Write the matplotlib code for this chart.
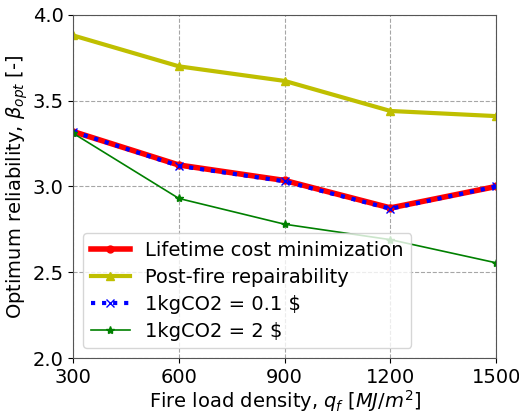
import numpy as np
import matplotlib
matplotlib.use("Agg")
import matplotlib.pyplot as plt

qf = [300, 600, 900, 1200, 1500]
lifetime = [3.32, 3.125, 3.035, 2.875, 3.0]
repair = [3.88, 3.70, 3.615, 3.44, 3.41]
co2_01 = [3.32, 3.12, 3.03, 2.87, 3.0]
co2_2 = [3.31, 2.93, 2.78, 2.69, 2.555]

plt.rcParams['font.size'] = 14
fig = plt.figure(figsize=(5.19, 4.13), dpi=100)
ax = fig.add_axes([0.141, 0.133, 0.815, 0.831])

ax.plot(qf, lifetime, 'r-', marker='o', lw=4, ms=5, label='Lifetime cost minimization')
ax.plot(qf, repair, 'y-', marker='^', lw=3, ms=6, label='Post-fire repairability')
ax.plot(qf, co2_01, 'b:', marker='x', lw=3, ms=6, label='1kgCO2 = 0.1 $')
ax.plot(qf, co2_2, 'g-', marker='*', lw=1.2, ms=6, label='1kgCO2 = 2 $')

ax.set_xlim(300, 1500)
ax.set_ylim(2.0, 4.0)
ax.set_xticks(qf)
ax.set_yticks([2.0, 2.5, 3.0, 3.5, 4.0])
ax.grid(True, ls='--', color='gray', alpha=0.7)
for s in ax.spines.values():
    s.set_color('#555555')
ax.set_xlabel(r'Fire load density, $q_f$ $[MJ/m^2]$', labelpad=1)
ax.set_ylabel(r'Optimum reliability, $\beta_{opt}$ [-]', labelpad=2)
ax.legend(loc='lower left', fontsize=14, borderpad=0.4, labelspacing=0.4)

fig.savefig('out.png')
